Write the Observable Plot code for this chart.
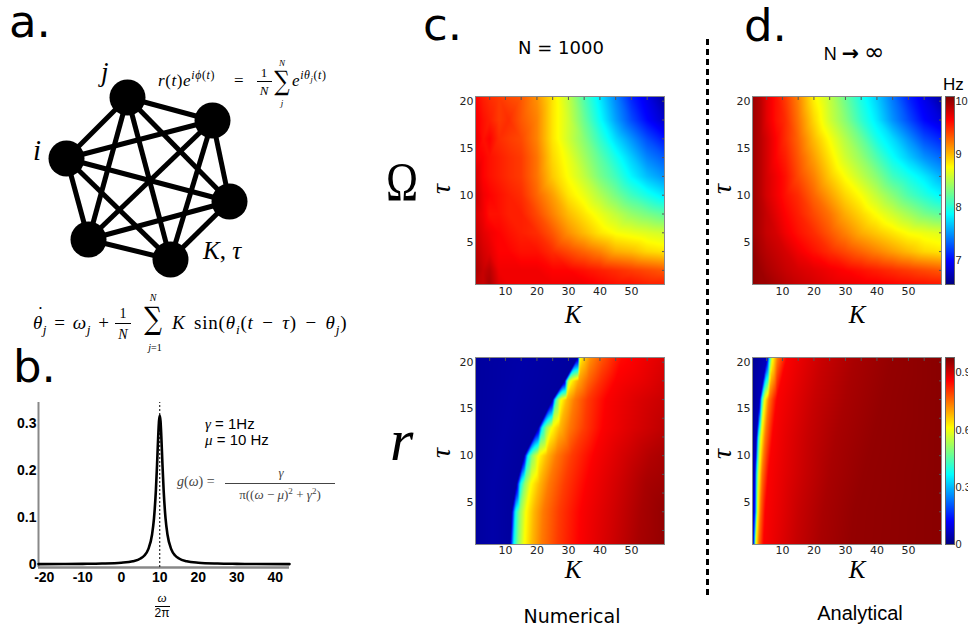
<!DOCTYPE html>
<html><head><meta charset="utf-8">
<script src="https://cdn.jsdelivr.net/npm/d3@7"></script>
<script src="https://cdn.jsdelivr.net/npm/@observablehq/plot@0.6"></script>
<style>
body{margin:0;background:#fff}
#fig{position:relative;width:968px;height:627px;overflow:hidden;background:#fff}
.abs{position:absolute;line-height:1;white-space:nowrap}
.serif{font-family:"Liberation Serif",serif}
.dvs{font-family:"DejaVu Serif",serif}
.sans{font-family:"Liberation Sans",Arial,sans-serif}
.dv{font-family:"DejaVu Sans",sans-serif}
sup,sub{font-size:0.7em;line-height:0}
.bar{position:absolute;height:0;border-top:1px solid currentColor}
.dot{position:relative;display:inline-block;line-height:0.8}
.dot>b{position:absolute;left:0.22em;top:-0.34em;font-weight:normal;font-style:normal;line-height:0.5}
svg.p{position:absolute;overflow:visible;background:transparent}
</style></head><body><div id="fig"></div><script>
// ---------------- data ----------------
const JET = ["#00007F","#0000FF","#007FFF","#00FFFF","#7FFF7F","#FFFF00","#FF7F00","#FF0000","#7F0000"];

// network (panel a)
const NODE_X = [127, 212, 66, 229, 88, 170];
const NODE_Y = [97, 120, 158, 201, 239, 259];
const EDGES = [[0,1],[0,2],[0,3],[0,4],[0,5],[1,2],[1,3],[1,4],[1,5],[2,3],[2,4],[2,5],[3,4],[3,5],[4,5]];

// Lorentzian (panel b)
const OMEGA = [-21.5,-15,-10,-5,0,3,5,6,7,8,8.5,9,9.3,9.6,9.8,10,10.2,10.4,10.7,11,11.5,12,13,14,15,17,20,25,30,35,43.7];
const G = [0.0003,0.0005,0.0008,0.0014,0.0032,0.0064,0.0122,0.0187,0.0318,0.0637,0.0979,0.1592,0.2136,0.2744,0.3061,0.3183,0.3061,0.2744,0.2136,0.1592,0.0979,0.0637,0.0318,0.0187,0.0122,0.0064,0.0032,0.0014,0.0008,0.0005,0.0003];
const OMEGA_TICKS = [-20,-10,0,10,20,30,40];
const G_TICKS = [0,0.1,0.2,0.3];

// heatmap axes
const K_TICKS = [10,20,30,40,50];
const TAU_TICKS = [5,10,15,20];
const K_MINOR = [5,10,15,20,25,30,35,40,45,50,55];
const TAU_MINOR = [2,4,6,8,10,12,14,16,18,20];
const OMEGA_BAR_TICKS = [7,8,9,10];
const R_BAR_TICKS = [0,0.3,0.6,0.9];

// Omega grids (Hz), read at the picture's edges and inside
const K_GRID = [0.5,3,5,8,11,15,20,25,30,35,40,45,50,55,60.5];
const TAU_GRID = [20.5,18,16,14,12,10,8,6,4,2,0.5];
const OMEGA_NUM = [
 [9.65,9.55,9.5,9.45,9.4,9.35,9.15,8.85,8.55,8.15,7.8,7.45,7.1,6.9,6.65],
 [9.7,9.6,9.55,9.45,9.5,9.35,9.2,8.85,8.6,8.25,7.9,7.55,7.25,7.0,6.8],
 [9.75,9.6,9.65,9.5,9.45,9.4,9.2,8.85,8.6,8.35,8.05,7.75,7.5,7.25,7.05],
 [9.7,9.65,9.6,9.55,9.5,9.45,9.25,8.9,8.7,8.45,8.2,7.95,7.7,7.45,7.3],
 [9.8,9.65,9.6,9.55,9.5,9.45,9.25,8.95,8.75,8.55,8.3,8.1,7.85,7.65,7.5],
 [9.85,9.7,9.65,9.6,9.55,9.5,9.3,9.1,8.85,8.7,8.5,8.3,8.1,7.95,7.8],
 [9.8,9.7,9.6,9.6,9.55,9.55,9.4,9.2,9.0,8.85,8.7,8.55,8.4,8.3,8.2],
 [9.85,9.75,9.7,9.65,9.6,9.55,9.5,9.35,9.15,9.0,8.85,8.75,8.7,8.65,8.6],
 [9.9,9.8,9.75,9.65,9.65,9.6,9.6,9.5,9.4,9.3,9.2,9.05,9.0,8.9,8.85],
 [9.95,9.85,9.9,9.7,9.7,9.7,9.7,9.65,9.65,9.6,9.55,9.5,9.45,9.4,9.35],
 [9.9,9.85,9.95,9.75,9.7,9.7,9.7,9.7,9.7,9.7,9.65,9.6,9.6,9.55,9.55]
];
const OMEGA_ANA = [
 [10.0,9.9,9.75,9.6,9.45,9.2,8.8,8.55,8.25,7.95,7.7,7.4,7.1,6.9,6.65],
 [10.0,9.9,9.75,9.6,9.5,9.25,8.9,8.6,8.35,8.05,7.8,7.5,7.25,7.0,6.85],
 [10.0,9.9,9.8,9.65,9.5,9.3,9.0,8.75,8.5,8.25,7.95,7.75,7.5,7.25,7.1],
 [10.0,9.9,9.8,9.65,9.55,9.35,9.1,8.85,8.6,8.4,8.15,7.9,7.7,7.5,7.35],
 [10.0,9.9,9.8,9.7,9.6,9.4,9.2,8.95,8.75,8.55,8.35,8.1,7.95,7.8,7.6],
 [10.0,9.9,9.8,9.7,9.6,9.5,9.3,9.1,8.9,8.75,8.55,8.35,8.15,8.0,7.85],
 [10.0,9.92,9.85,9.75,9.65,9.55,9.4,9.25,9.05,8.9,8.75,8.6,8.45,8.3,8.2],
 [10.0,9.92,9.85,9.8,9.7,9.6,9.5,9.35,9.2,9.05,8.95,8.85,8.75,8.7,8.65],
 [10.05,9.95,9.9,9.85,9.8,9.7,9.6,9.5,9.4,9.3,9.2,9.1,9.0,8.9,8.85],
 [10.05,10.0,9.95,9.9,9.85,9.8,9.75,9.7,9.65,9.6,9.55,9.5,9.45,9.4,9.35],
 [10.05,10.0,10.0,9.95,9.9,9.85,9.8,9.75,9.72,9.7,9.68,9.65,9.62,9.6,9.58]
];

// r (order parameter) rows: tau, K positions, values
const R_NUM_TAU = [0.5,4,7,10,13,16,18,20.5];
const R_NUM_K = [
 [0.5,6,11.5,12.2,12.7,14,16,18.5,21.5,26.5,33.5,43,52,60.5],
 [0.5,6,12.0,12.7,13.2,14.5,16.5,19,22,27,34,44,53,60.5],
 [0.5,6,13.6,14.3,14.8,16.1,18.1,20.8,23.8,28.8,35.8,45.5,54.5,60.5],
 [0.5,8,16.0,16.7,17.2,18.5,20.5,23.2,26.2,31,38,48,56,60.5],
 [0.5,10,20.5,21.2,21.7,22.9,24.8,27.3,30.3,35,41,50,60.5],
 [0.5,12,25,25.6,26.2,27.5,29.5,32,36,42,52,60.5],
 [0.5,14,28.8,29.4,30,31.3,33.3,36.3,40,45,54,60.5],
 [0.5,16,33,33.6,34.6,37,41,47,54,60.5]
];
const R_NUM_V = [
 [0.03,0.04,0.03,0.25,0.37,0.5,0.61,0.68,0.74,0.8,0.86,0.9,0.94,0.96],
 [0.03,0.04,0.03,0.25,0.37,0.5,0.61,0.68,0.74,0.8,0.86,0.9,0.94,0.96],
 [0.03,0.04,0.03,0.25,0.37,0.5,0.61,0.68,0.74,0.8,0.86,0.9,0.94,0.95],
 [0.03,0.04,0.03,0.25,0.37,0.5,0.61,0.68,0.74,0.8,0.86,0.9,0.93,0.94],
 [0.03,0.04,0.03,0.25,0.37,0.5,0.61,0.68,0.74,0.8,0.86,0.89,0.92],
 [0.03,0.04,0.03,0.3,0.45,0.6,0.68,0.74,0.8,0.86,0.89,0.91],
 [0.03,0.04,0.03,0.35,0.55,0.63,0.7,0.76,0.81,0.86,0.88,0.9],
 [0.03,0.04,0.03,0.6,0.65,0.72,0.78,0.85,0.87,0.89]
];
const R_ANA_TAU = [0.5,4,8,12,16,20.5];
const R_ANA_K = [
 [0.5,1.0,1.5,2.5,4,8,14,22,32,60.5],
 [0.5,1.3,2.1,3,4.5,9,15,23,33,60.5],
 [0.5,1.3,1.8,2.5,3.5,5.5,10,17,25,36,60.5],
 [0.5,1.8,2.3,3.2,4.5,6.8,11,18,27,39,60.5],
 [0.5,2.8,3.4,4.3,5.7,8.2,13,20,30,42,60.5],
 [0.5,5.2,5.9,6.8,8.4,11.4,16,23,33,45,60.5]
];
const R_ANA_V = [
 [0.02,0.2,0.6,0.75,0.86,0.88,0.91,0.94,0.96,0.97],
 [0.02,0.15,0.6,0.75,0.86,0.88,0.91,0.94,0.96,0.97],
 [0.02,0.08,0.37,0.6,0.74,0.86,0.88,0.91,0.94,0.96,0.97],
 [0.02,0.06,0.37,0.6,0.74,0.86,0.88,0.91,0.94,0.96,0.97],
 [0.02,0.06,0.37,0.6,0.74,0.86,0.88,0.91,0.94,0.96,0.97],
 [0.02,0.06,0.37,0.6,0.74,0.86,0.88,0.91,0.94,0.96,0.97]
];

// ---------------- build ----------------
const fig = document.getElementById("fig");
const jet = d3.piecewise(d3.interpolateRgb, JET);

function place(svg, left, top) {
  svg.classList.add("p");
  svg.style.left = left + "px";
  svg.style.top = top + "px";
  fig.appendChild(svg);
}
function gridPoints(grid) {
  const pts = [];
  TAU_GRID.forEach((tau, i) => K_GRID.forEach((K, j) => pts.push({K, tau, v: grid[i][j]})));
  return pts;
}
function rowPoints(taus, ks, vs) {
  const pts = [];
  taus.forEach((tau, i) => ks[i].forEach((K, j) => pts.push({K, tau, v: vs[i][j]})));
  return pts;
}

function heatmap(points, domain, left, top, plotH, pad) {
  const svg = Plot.plot({
    width: 221, height: plotH + 22, marginLeft: 30, marginRight: 2, marginTop: 2, marginBottom: 20,
    style: {fontFamily: "DejaVu Sans", fontSize: "11px", color: "#222"},
    x: {domain: [0.5, 60.5], label: null},
    y: {domain: [0.5, 20.5], label: null},
    color: {type: "linear", domain, interpolate: jet, clamp: true},
    marks: [
      Plot.raster(points, {x: "K", y: "tau", fill: "v", interpolate: "barycentric", x1: 0.5, x2: 60.5, y1: 0.5, y2: 20.5}),
      Plot.axisX({ticks: K_TICKS, tickSize: 0, tickPadding: pad, label: null}),
      Plot.axisY({ticks: TAU_TICKS, tickSize: 0, tickPadding: 2, label: null}),
      Plot.axisX({anchor: "top", ticks: K_MINOR, tickSize: -3, tickFormat: () => "", label: null, stroke: "#555"}),
      Plot.axisY({anchor: "right", ticks: TAU_MINOR, tickSize: -3, tickFormat: () => "", label: null, stroke: "#555"}),
      Plot.frame({stroke: "#888"})
    ]
  });
  place(svg, left, top);
}

function colorbar(domain, ticks, left, top, plotH) {
  const svg = Plot.plot({
    width: 30, height: plotH + 22, marginLeft: 0, marginRight: 21, marginTop: 2, marginBottom: 20,
    style: {fontFamily: "Liberation Sans", fontSize: "11px", color: "#222"},
    x: {domain: [0, 1], axis: null},
    y: {domain, label: null},
    color: {type: "linear", domain, interpolate: jet, clamp: true},
    marks: [
      Plot.raster({fill: (x, y) => y, x1: 0, x2: 1, y1: domain[0], y2: domain[1]}),
      Plot.axisY({anchor: "right", ticks, tickSize: 0, tickPadding: 1, tickFormat: d => String(d), label: null}),
      Plot.frame({stroke: "#666"})
    ]
  });
  place(svg, left, top);
}

// panel a network
place(Plot.plot({
  width: 300, height: 300, margin: 0,
  x: {domain: [0, 300], axis: null},
  y: {domain: [0, 300], reverse: true, axis: null},
  marks: [
    Plot.link(EDGES, {x1: d => NODE_X[d[0]], y1: d => NODE_Y[d[0]], x2: d => NODE_X[d[1]], y2: d => NODE_Y[d[1]], stroke: "black", strokeWidth: 5}),
    Plot.dot(NODE_X.map((x, i) => ({x, y: NODE_Y[i]})), {x: "x", y: "y", r: 18, fill: "black"})
  ]
}), 0, 0);

// panel b
place(Plot.plot({
  width: 300, height: 200, marginLeft: 38, marginRight: 11, marginTop: 12, marginBottom: 23,
  style: {fontFamily: "Liberation Sans", fontSize: "14px", fontWeight: "bold", color: "#000"},
  x: {domain: [-21.5, 43.7], label: null},
  y: {domain: [-0.007, 0.346], label: null},
  marks: [
    Plot.axisX({ticks: OMEGA_TICKS, tickSize: 0, tickPadding: 5, tickFormat: d => String(d), label: null}),
    Plot.axisY({ticks: G_TICKS, tickSize: 0, tickPadding: 2, tickFormat: d => String(d), label: null}),
    Plot.ruleX([-21.5], {stroke: "#888", strokeWidth: 2}),
    Plot.ruleY([-0.007], {stroke: "#888", strokeWidth: 2.5}),
    Plot.ruleX([10], {y1: -0.007, y2: 0.346, stroke: "#000", strokeWidth: 1, strokeDasharray: "2,2"}),
    Plot.line(OMEGA.map((x, i) => ({x, y: G[i]})), {x: "x", y: "y", stroke: "#000", strokeWidth: 2.6, curve: "monotone-x"})
  ]
}), 0, 390);

// heatmaps
const OM = [6.54, 10.1], RD = [0, 0.98];
heatmap(gridPoints(OMEGA_NUM), OM, 445, 94, 188, 3);
heatmap(gridPoints(OMEGA_ANA), OM, 722, 94, 188, 3);
heatmap(rowPoints(R_NUM_TAU, R_NUM_K, R_NUM_V), RD, 445, 355, 187, 2);
heatmap(rowPoints(R_ANA_TAU, R_ANA_K, R_ANA_V), RD, 722, 355, 187, 2);
colorbar(OM, OMEGA_BAR_TICKS, 945, 94, 188);
colorbar(RD, R_BAR_TICKS, 945, 355, 187);

// ---------------- text ----------------
function T(html, x, base, size, cls, extra) {
  const d = document.createElement("div");
  d.className = "abs " + cls;
  d.innerHTML = html;
  d.style.left = x + "px";
  d.style.top = (base - 0.84 * size) + "px";
  d.style.fontSize = size + "px";
  if (extra) Object.assign(d.style, extra);
  fig.appendChild(d);
  return d;
}
function bar(x, y, w, color) {
  const d = document.createElement("div");
  d.className = "bar";
  d.style.left = x + "px"; d.style.top = y + "px"; d.style.width = w + "px";
  if (color) d.style.color = color;
  fig.appendChild(d);
}
const C = {transform: "translateX(-50%)"};
const SUM = {transform: "translateX(-50%) scaleX(0.8)", lineHeight: "0.8"};

// panel letters
T("a.", 9, 37, 45, "dv");
T("b.", 13, 382, 45, "dv");
T("c.", 423, 40, 45, "dv");
T("d.", 744, 41, 45, "dv");

// network labels
T("<i>j</i>", 101, 82, 27, "serif");
T("<i>i</i>", 33, 160, 29, "serif");
T("<i>K</i>, <i>τ</i>", 203, 259, 25, "serif");

// equation 1
T('<i>r</i>(<i>t</i>)<i>e</i><sup><i>iϕ</i>(<i>t</i>)</sup>', 158, 86, 17, "serif", {letterSpacing: "0.6px"});
T('=', 234, 86, 17, "serif");
T('1', 264, 77, 13, "serif", C);
bar(257, 81, 15);
T('<i>N</i>', 264, 95, 13, "serif", C);
T('∑', 282, 93, 27, "dvs", SUM);
T('<i>N</i>', 282, 67, 9, "serif", C);
T('<i>j</i>', 282, 107, 9, "serif", C);
T('<i>e</i><sup><i>iθ<sub>j</sub></i>(<i>t</i>)</sup>', 292, 86, 17, "serif", {letterSpacing: "0.6px"});

// equation 2
T('<span class="dot"><i>θ</i><b>˙</b></span><sub><i>j</i></sub> = <i>ω</i><sub><i>j</i></sub> +', 33, 329, 19, "serif", {letterSpacing: "0.5px", wordSpacing: "2px"});
T('1', 123, 319, 14, "serif", C);
bar(115, 323, 16);
T('<i>N</i>', 123, 340, 14, "serif", C);
T('∑', 153, 332, 31, "dvs", SUM);
T('<i>N</i>', 153, 301, 10, "serif", C);
T('<i>j</i>=1', 155, 351, 10, "serif", C);
T('<i>K</i> sin(<i>θ<sub>i</sub></i>(<i>t</i> − <i>τ</i>) − <i>θ<sub>j</sub></i>)', 172, 329, 19, "serif", {letterSpacing: "0.8px", wordSpacing: "3px"});

// panel b text
T('<i class="serif">γ</i> = 1Hz', 205, 429, 15, "sans");
T('<i class="serif">μ</i> = 10 Hz', 205, 445, 15, "sans");
T('<i>g</i>(<i>ω</i>) =', 177, 487, 14, "serif", {color: "#444"});
T('<i>γ</i>', 281, 477, 13, "serif", Object.assign({color: "#444"}, C));
bar(225, 483, 110, "#444");
T('π((<i>ω</i> − <i>μ</i>)<sup>2</sup> + <i>γ</i><sup>2</sup>)', 280, 499, 13, "serif", Object.assign({color: "#444"}, C));
T('<i>ω</i>', 162, 602, 13, "serif", C);
bar(155, 606, 15);
T('2π', 162, 617, 12, "sans", C);

// headers
T('N = 1000', 561, 54, 18, "dv", C);
T('N <span style="font-family:\'DejaVu Sans\';font-weight:bold;font-size:1.15em">→</span> <span style="font-family:\'DejaVu Sans\';font-size:1.35em">∞</span>', 854, 55, 18, "sans", C);
T('Hz', 943, 90, 17, "sans");

// big symbols
T('Ω', 386, 200, 54, "serif", {transform: "scaleX(0.8)", transformOrigin: "left"});
T('<i>r</i>', 390, 460, 60, "serif");

// rotated tau labels and K labels
[[441, 189], [722, 189], [441, 453], [722, 454]].forEach(([x, y]) => {
  T('<i>τ</i>', x, 0, 28, "serif", {transform: "translate(-50%,-50%) rotate(-90deg)", top: y + "px"});
});
[[573, 325], [857, 325], [573, 580], [857, 580]].forEach(([x, b]) => T('<i>K</i>', x, b, 25, "serif", Object.assign({lineHeight: "0.9"}, C)));

// footers
T('Numerical', 572, 623, 19, "dv", C);
T('Analytical', 860, 620, 20, "sans", C);

// dashed separator
const dash = document.createElement("div");
Object.assign(dash.style, {position: "absolute", left: "706px", top: "39px", width: "3px", height: "560px",
  background: "repeating-linear-gradient(to bottom, #000 0 6px, transparent 6px 10px)"});
fig.appendChild(dash);
</script></body></html>
